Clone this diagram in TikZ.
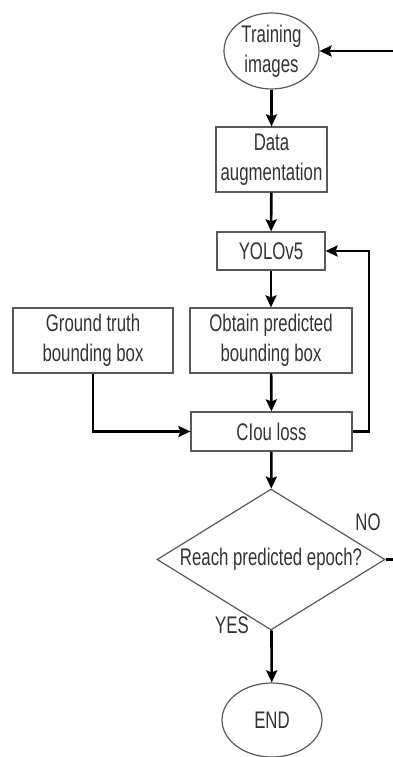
\documentclass[tikz,border=0pt]{standalone}
\usepackage{fontspec}
\setmainfont[FakeStretch=0.70]{Liberation Sans}
\usetikzlibrary{shapes.geometric,arrows.meta}

\begin{document}
\begin{tikzpicture}[x=1pt,y=-1pt,
  box/.style={draw=black!65,line width=1.2pt,text=black!80,inner sep=0pt,align=center,
    font=\fontsize{24}{30}\selectfont},
  ell/.style={box,ellipse},
  dia/.style={box,diamond,aspect=1.62},
  flow/.style={line width=2.6pt,-{Stealth[length=12pt,width=11pt,inset=2pt]}},
  lbl/.style={text=black!80,font=\fontsize{24}{30}\selectfont}]

  \useasboundingbox (0,0) rectangle (393,757);

  % nodes
	\node[ell,minimum width=95,minimum height=76] (train) at (271.5,51) {Training\\images};
	\node[box,minimum width=111,minimum height=65] (aug) at (271.5,159.5) {Data\\augmentation};
	\node[box,minimum width=108,minimum height=38] (yolo) at (271,251) {YOLOv5};
	\node[box,minimum width=160,minimum height=65] (gt) at (93,340.5) {Ground truth\\bounding box};
	\node[box,minimum width=162,minimum height=65] (obtain) at (271,340.5) {Obtain predicted\\bounding box};
	\node[box,minimum width=161,minimum height=39] (clou) at (271.5,431.5) {CIou loss};
	\node[dia,minimum width=228,minimum height=141] (epoch) at (271,559.5) {Reach predicted epoch?};
	\node[ell,minimum width=100,minimum height=74] (end) at (272,720) {END};

  % loop ends
	\coordinate (inR) at (393,51);
	\coordinate (noR) at (393,559.5);
	\coordinate (back) at (369,431.5);

  % arrows
	\draw[flow] (inR) -- (train);
	\draw[flow] (train) -- (aug);
	\draw[flow] (aug) -- (yolo);
	\draw[flow] (yolo) -- (obtain);
	\draw[flow] (obtain) -- (clou);
	\draw[flow] (gt.south) |- (clou.west);
	\draw[flow] (clou.east) -- (back) |- (yolo.east);
	\draw[flow] (clou) -- (epoch);
	\draw[flow] (epoch) -- (end);
	\draw[line width=2.6pt] (epoch.east) -- (noR);

  % labels
	\node[lbl] (no) at (368,522) {NO};
	\node[lbl] (yes) at (232,625) {YES};

\end{tikzpicture}
\end{document}
